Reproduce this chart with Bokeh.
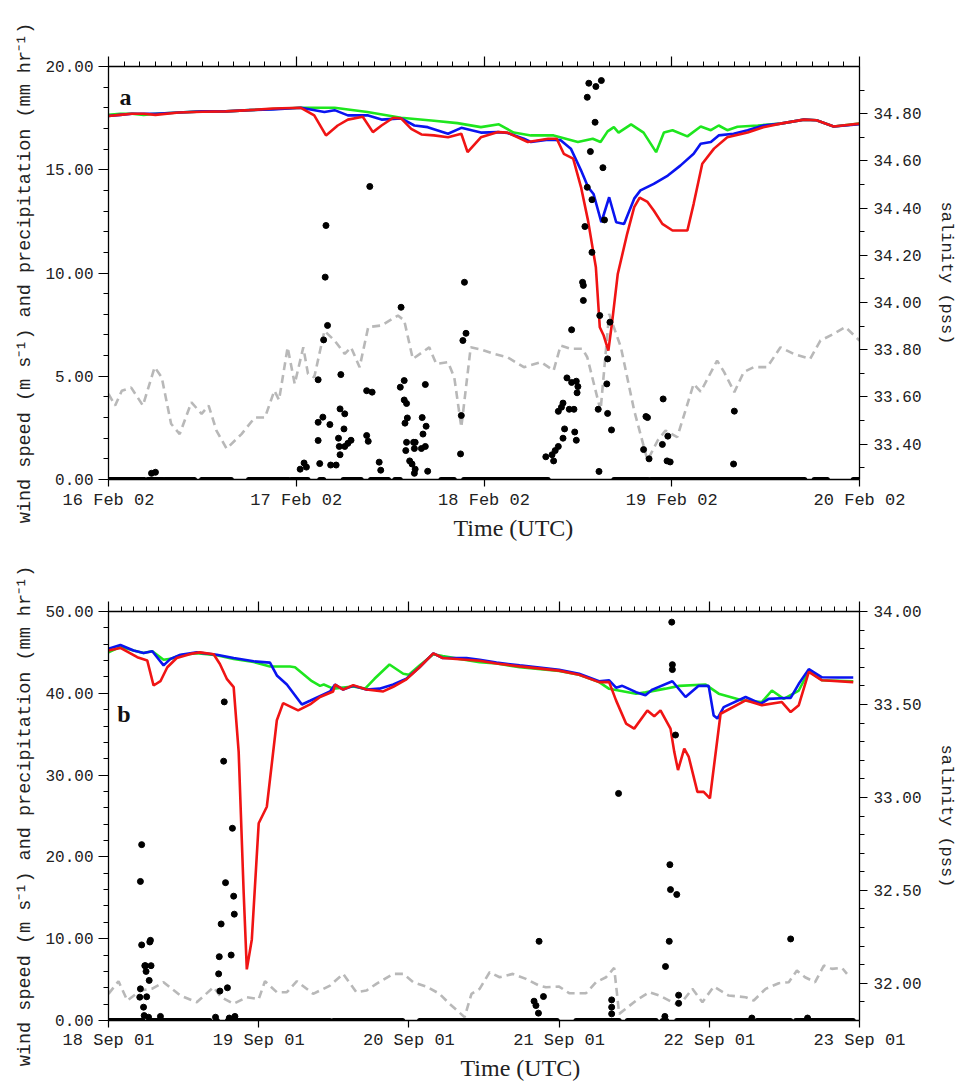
from bokeh.plotting import figure
from bokeh.models import (Range1d, LinearAxis, FixedTicker, PrintfTickFormatter,
                          CustomJSTickFormatter, Label, Title)
from bokeh.layouts import column
from bokeh.embed import file_html
from bokeh.resources import INLINE

MONO = "Liberation Mono"
SERIF = "Liberation Serif"

# ---------------- Panel a (16-20 Feb 2002), x = hours since 16 Feb 00 UTC ----------------
days_a = [0, 24, 48, 72, 96]
day_labels_a = ["16 Feb 02", "17 Feb 02", "18 Feb 02", "19 Feb 02", "20 Feb 02"]

sal_a_green_h = [0, 1.5, 3, 4.5, 6, 9, 12, 15, 18, 21, 24.6, 28.9, 33.1, 37.4, 41.6, 44.6, 47.6, 49.9,
                 51.8, 54, 56.9, 60, 61.9, 62.9, 63.8, 64.6, 65.2, 66.8, 68.4, 70, 71, 72.1, 74, 75.7,
                 77, 78, 79.1, 80.4, 83, 85.9, 88.9, 90.5, 92.7, 96]
sal_a_green = [34.795, 34.80, 34.80, 34.795, 34.80, 34.805, 34.81, 34.81, 34.815, 34.82, 34.825, 34.825,
               34.807, 34.783, 34.77, 34.76, 34.743, 34.755, 34.72, 34.708, 34.708, 34.68, 34.694, 34.68,
               34.725, 34.743, 34.72, 34.755, 34.72, 34.637, 34.72, 34.73, 34.704, 34.746, 34.73, 34.75,
               34.73, 34.745, 34.75, 34.758, 34.775, 34.772, 34.746, 34.758]

sal_a_blue_h = [0, 1.5, 3, 4.5, 6, 9, 12, 15, 18, 21, 24.6, 27.6, 28.9, 30.6, 33.1, 34.9, 37.4, 39.1,
                40.8, 43.4, 45.1, 47.6, 49.8, 51, 53.1, 54, 56.2, 57.8, 59.1, 60.4, 61.3, 62, 63, 64,
                64.9, 65.9, 67.2, 68, 69.7, 71.5, 73.1, 74.8, 75.7, 77, 78, 79.9, 81.7, 83.7, 85.9,
                88.9, 90.5, 92.7, 96]
sal_a_blue = [34.79, 34.795, 34.80, 34.80, 34.80, 34.805, 34.81, 34.81, 34.815, 34.818, 34.825, 34.807,
              34.815, 34.793, 34.793, 34.775, 34.78, 34.75, 34.743, 34.715, 34.74, 34.72, 34.722, 34.718,
              34.694, 34.68, 34.69, 34.688, 34.652, 34.56, 34.489, 34.46, 34.34, 34.446, 34.34, 34.333,
              34.44, 34.475, 34.503, 34.538, 34.58, 34.63, 34.673, 34.68, 34.708, 34.715, 34.73, 34.75,
              34.758, 34.775, 34.772, 34.746, 34.755]

sal_a_red_h = [0, 1.5, 3, 4.5, 6, 9, 12, 15, 18, 21, 24.6, 26.3, 27.8, 29.3, 30.6, 32.5, 33.8, 34.9,
               36.4, 37.4, 38.7, 40, 41.6, 43.4, 45.1, 45.9, 47.6, 49.8, 51, 53.6, 56.2, 57.3, 58.2,
               59.4, 60.4, 61.3, 62.3, 62.8, 63.3, 63.9, 64.4, 65.1, 66.3, 67.2, 67.9, 68.9, 69.7,
               70.8, 72.1, 74, 74.8, 75.9, 77.4, 79.1, 81.7, 83.7, 85.9, 88.9, 90.5, 92.7, 96]
sal_a_red = [34.79, 34.795, 34.80, 34.80, 34.795, 34.805, 34.808, 34.81, 34.815, 34.822, 34.825, 34.793,
             34.708, 34.75, 34.775, 34.787, 34.722, 34.75, 34.783, 34.78, 34.736, 34.712, 34.708, 34.70,
             34.715, 34.637, 34.70, 34.722, 34.72, 34.68, 34.694, 34.694, 34.63, 34.61, 34.489, 34.347,
             34.149, 33.895, 33.86, 33.796, 33.923, 34.121, 34.291, 34.404, 34.444, 34.426, 34.39,
             34.333, 34.305, 34.305, 34.418, 34.588, 34.652, 34.70, 34.72, 34.743, 34.758, 34.775,
             34.772, 34.746, 34.758]

wind_a_h = [0, 0.85, 1.7, 2.9, 4.4, 5.9, 6.8, 8, 9.1, 10.6, 11.9, 12.8, 13.8, 15.1, 17, 18.7, 20, 21.2,
            21.8, 22.9, 23.8, 24.9, 25.5, 26.3, 27.6, 28.9, 30.2, 31, 32.1, 33.2, 34.9, 37, 37.8, 38.9,
            41, 41.9, 43.4, 44.2, 45.1, 46.3, 47.6, 49.3, 51, 53.1, 55.3, 56.9, 57.8, 59.1, 60.6, 61.2,
            62.9, 64, 65.5, 67.2, 68.9, 70.2, 71.2, 72.7, 74.8, 75.7, 77.8, 78.7, 80, 81.2, 82.5, 84.2,
            85.9, 87.6, 89.7, 91, 92.7, 94.2, 96]
wind_a = [4.15, 3.58, 4.3, 4.45, 3.58, 5.44, 4.95, 2.7, 2.2, 3.74, 3.18, 3.58, 2.37, 1.49, 2.2, 3.0, 3.0,
          4.3, 3.85, 6.4, 4.63, 6.4, 5.12, 4.95, 7.2, 6.73, 6.08, 6.4, 5.44, 7.38, 7.46, 7.94, 7.7, 5.84,
          6.4, 5.6, 5.68, 4.95, 2.53, 6.4, 6.3, 6.08, 5.92, 5.44, 5.68, 5.28, 6.49, 6.33, 6.33, 5.92,
          3.34, 8.02, 6.4, 3.34, 0.92, 1.89, 2.37, 2.05, 4.63, 4.25, 5.76, 5.2, 4.23, 5.2, 5.44, 5.44,
          6.4, 6.08, 5.84, 6.73, 7.05, 7.38, 6.73]

rain_a_h = [26.8, 27.4, 26.8, 26.8, 28.3, 27.8, 27.7, 28.0, 27.5, 27.0, 28.4, 29.7, 29.6, 30.2, 30.1,
            29.4, 29.5, 29.6, 29.1, 30.6, 31.0, 30.2, 33.4, 33.0, 33.7, 33.0, 33.2, 34.6, 34.8, 37.4,
            37.3, 37.8, 37.8, 38.1, 38.2, 37.9, 40.1, 40.5, 40.6, 40.2, 38.1, 39.0, 39.2, 38.0, 39.1,
            40.0, 40.5, 38.5, 38.8, 39.2, 39.1, 40.8, 45.5, 45.7, 45.3, 45.1, 45.0,
            61.4, 62.3, 63.0, 61.2, 62.2, 61.6, 63.2, 61.2, 61.8, 63.4, 60.9, 61.8, 60.6, 60.7, 60.7,
            62.8, 64.1, 59.2, 63.8, 58.6, 59.2, 59.8, 60.0, 59.9, 63.7, 58.1, 58.9, 59.5, 57.5, 57.9,
            62.6, 63.8, 58.3, 59.6, 59.8, 58.1, 64.3, 57.5, 57.1, 56.7, 55.9, 56.9, 62.7, 68.7, 68.9,
            70.9, 71.5, 70.8, 68.4, 69.1, 71.4, 71.8, 80.0, 79.9, 5.5, 6.0, 24.5, 25.0, 25.3]
rain_a = [4.83, 3.02, 2.77, 1.89, 2.66, 12.3, 9.8, 7.46, 6.76, 0.77, 0.7, 5.08, 3.42, 3.18, 2.45,
          2.0, 1.6, 1.2, 0.7, 1.75, 1.9, 1.6, 14.19, 4.3, 4.23, 2.13, 1.85, 0.84, 0.45, 8.34,
          4.47, 4.79, 3.85, 3.68, 2.98, 2.73, 3.0, 4.6, 2.58, 2.2, 1.8, 1.8, 1.8, 1.4, 1.5,
          1.5, 1.6, 0.9, 0.75, 0.5, 0.3, 0.4, 9.55, 7.08, 6.73, 3.1, 1.24,
          19.19, 19.03, 19.32, 18.51, 17.3, 15.88, 15.1, 14.15, 13.55, 12.57, 12.25, 11.0, 9.55, 9.4,
          8.67, 7.94, 7.62, 7.25, 5.84, 4.92, 4.7, 4.76, 4.5, 4.2, 4.63, 3.7, 3.4, 3.4, 3.3, 3.5,
          3.4, 3.2, 2.45, 2.3, 1.9, 2.0, 2.4, 1.6, 1.4, 1.2, 1.1, 0.9, 0.39, 3.05, 3.0,
          3.9, 2.1, 1.7, 1.45, 1.0, 0.9, 0.85, 3.31, 0.75, 0.3, 0.35, 0.5, 0.8, 0.6]

# periods with zero-precipitation readings (hours)
dry_a_start = [0, 5.0, 7.2, 11.9, 17.9, 23.3, 27.0, 30.0, 33.5, 36.6, 42.5, 45.4, 64.6, 69.3, 90.2, 95.2]
dry_a_end = [4.6, 7.0, 11.0, 15.7, 23.0, 25.5, 27.5, 32.3, 35.8, 37.3, 44.2, 56.2, 69.0, 89.0, 91.9, 96]

# ---------------- Panel b (18-23 Sep 2001), x = hours since 18 Sep 00 UTC ----------------
days_b = [0, 24, 48, 72, 96, 120]
day_labels_b = ["18 Sep 01", "19 Sep 01", "20 Sep 01", "21 Sep 01", "22 Sep 01", "23 Sep 01"]

sal_b_green_h = [0, 1.9, 4, 5.6, 7, 8.8, 9.9, 11.5, 14.1, 17.3, 20, 23.2, 25.8, 29, 29.8, 32.5, 33.8,
                 34.4, 35.9, 39.1, 41, 42.5, 44.9, 47.1, 48, 49.7, 51.9, 53.4, 59.3, 62, 65.7, 72,
                 75.2, 78.4, 80, 84.3, 85.8, 89, 91.2, 95.4, 97.5, 101.2, 104.4, 106, 107.9, 110.3,
                 111.9, 114, 119]
sal_b_green = [33.78, 33.81, 33.79, 33.777, 33.786, 33.74, 33.745, 33.765, 33.775, 33.765, 33.745,
               33.728, 33.704, 33.704, 33.70, 33.625, 33.60, 33.607, 33.585, 33.597, 33.585, 33.638,
               33.715, 33.665, 33.66, 33.71, 33.77, 33.76, 33.727, 33.72, 33.70, 33.68, 33.66, 33.62,
               33.584, 33.558, 33.565, 33.585, 33.60, 33.607, 33.558, 33.522, 33.513, 33.575, 33.53,
               33.575, 33.68, 33.63, 33.625]

sal_b_blue_h = [0, 1.9, 4, 5.6, 7, 8.8, 9.9, 11.5, 14.1, 17.3, 20, 23.2, 25.8, 26.9, 28.5, 30.9, 32.2,
                35.4, 36.2, 37.5, 39.1, 41.2, 43.3, 45.5, 47.6, 49.7, 51.9, 53.4, 55.3, 57.2, 59.3, 62,
                65.7, 68.5, 72, 75.2, 78.4, 80, 81.1, 82.1, 84.3, 85.8, 86.9, 90.1, 92.2, 94.3, 95.9,
                96.7, 97.3, 98.3, 101.8, 104.2, 105.5, 108.2, 109, 110.3, 111.9, 114, 116.6, 119]
sal_b_blue = [33.80, 33.82, 33.79, 33.777, 33.786, 33.71, 33.745, 33.767, 33.78, 33.767, 33.75, 33.732,
              33.725, 33.656, 33.607, 33.50, 33.52, 33.57, 33.607, 33.58, 33.60, 33.58, 33.585, 33.607,
              33.638, 33.70, 33.775, 33.75, 33.75, 33.75, 33.74, 33.725, 33.71, 33.70, 33.686, 33.665,
              33.625, 33.63, 33.59, 33.60, 33.566, 33.55, 33.58, 33.625, 33.54, 33.60, 33.60, 33.441,
              33.424, 33.486, 33.54, 33.504, 33.53, 33.535, 33.535, 33.611, 33.69, 33.646, 33.645,
              33.645]

sal_b_red_h = [0, 1.9, 4.6, 6.2, 7.2, 8.3, 9.4, 10.9, 13.1, 14.6, 16.8, 17.8, 18.9, 20, 20.8, 21.6,
               22.1, 22.9, 24, 25.3, 26.9, 27.9, 30.3, 32.2, 33.8, 35.9, 36.2, 37.5, 39.1, 41.2, 43.9,
               45.5, 47.6, 49.7, 51.9, 53.4, 59.3, 62, 65.7, 72, 75.2, 78.4, 80, 81.1, 82.7, 84, 86.1,
               87.2, 88.2, 89.8, 90.4, 91, 92, 92.7, 94.1, 95.1, 96.1, 97.8, 101.8, 104.4, 107.6, 109,
               110.3, 111.9, 114, 119]
sal_b_red = [33.79, 33.804, 33.754, 33.736, 33.602, 33.625, 33.70, 33.75, 33.772, 33.78, 33.77, 33.718,
             33.638, 33.593, 33.245, 32.486, 32.075, 32.236, 32.861, 32.95, 33.415, 33.507, 33.468,
             33.50, 33.54, 33.57, 33.607, 33.58, 33.604, 33.58, 33.57, 33.595, 33.635, 33.70, 33.775,
             33.75, 33.735, 33.72, 33.705, 33.682, 33.66, 33.62, 33.62, 33.522, 33.397, 33.37, 33.468,
             33.436, 33.468, 33.37, 33.245, 33.147, 33.263, 33.22, 33.03, 33.03, 32.995, 33.45, 33.522,
             33.496, 33.513, 33.459, 33.496, 33.675, 33.63, 33.62]

wind_b_h = [0, 1.6, 3, 5.1, 7, 8.8, 11.5, 14.1, 16.8, 18, 20, 22.1, 24, 25, 26.9, 28.5, 30.1, 32.7,
            35.4, 37.5, 39.6, 41.2, 42.8, 45.5, 47.1, 48.7, 50.8, 52.9, 54.5, 56.9, 58, 59.3, 60.9,
            62.5, 64.6, 66.7, 68.8, 69.9, 72, 73.6, 76.3, 77.9, 79.5, 80.8, 81.6, 84.3, 86.4, 88,
            89.6, 91.2, 93.3, 94.9, 96.7, 99.1, 101.8, 103.1, 105, 107.1, 108.7, 110, 111.3, 112.9,
            114.3, 115.6, 117.2, 118]
wind_b = [3.26, 4.8, 2.44, 3.66, 3.9, 4.68, 3.05, 2.24, 4.07, 2.85, 2.04, 2.85, 2.6, 4.8, 3.46, 3.46,
          4.8, 3.26, 4.27, 5.7, 3.46, 3.66, 4.48, 5.7, 5.7, 4.68, 4.15, 3.26, 2.04, 0.41, 3.26, 3.87,
          5.9, 5.29, 5.7, 5.09, 4.27, 4.07, 4.15, 3.34, 3.34, 4.68, 5.29, 6.43, 0.81, 2.44, 3.46,
          3.05, 2.44, 1.83, 3.87, 2.24, 4.15, 3.05, 2.85, 2.44, 3.87, 4.56, 4.68, 6.1, 5.29, 4.68,
          6.72, 6.31, 6.43, 5.7]

rain_b_h = [5.3, 5.1, 5.3, 5.1, 5.0, 5.6, 5.7, 5.8, 5.9, 6.0, 6.1, 6.5, 6.6, 6.7, 6.8, 6.4, 8.3,
            18.5, 18.4, 18.0, 17.7, 17.6, 17.8, 18.7, 19.8, 20.0, 20.1, 19.6, 19.0, 17.1, 19.3, 20.2,
            68.8, 68.0, 68.3, 68.7, 69.5, 81.5, 80.4, 80.4, 80.4,
            90.0, 90.1, 90.1, 90.6, 89.7, 89.8, 90.8, 89.6, 89.0, 91.1, 91.1, 88.9, 109.0, 102.8, 111.7]
rain_b = [21.5, 17.0, 9.24, 3.87, 2.85, 1.63, 0.6, 6.7, 6.7, 6.0, 2.9, 4.9, 9.6, 9.8, 6.7, 0.4, 0.5,
          38.95, 31.7, 11.8, 7.8, 5.7, 3.6, 16.85, 23.5, 15.2, 13.0, 8.0, 4.0, 0.4, 0.3, 0.5,
          9.68, 2.36, 1.83, 0.9, 2.93, 27.76, 2.52, 1.63, 0.81,
          48.7, 43.5, 42.9, 34.9, 19.05, 16.0, 15.4, 9.68, 6.6, 3.1, 2.1, 0.5, 9.97, 0.3, 0.3]

dry_b_start = [0, 6.7, 17.2, 19.0, 35.9, 49.7, 74.7, 82.9, 88.5, 90.8, 103.6, 109.8]
dry_b_end = [5.5, 16.2, 17.4, 35.4, 47.0, 71.7, 81.6, 87.5, 89.2, 102.8, 109.0, 119.0]

GREEN = "#1ee61e"
BLUE = "#0a14f0"
RED = "#f01414"
GRAY = "#b8b8b8"


def style_axis(ax, major_out, minor_out):
    ax.axis_line_color = "black"
    ax.axis_line_width = 1.3
    ax.major_tick_line_color = "black"
    ax.minor_tick_line_color = "black"
    ax.major_tick_line_width = 1.2
    ax.minor_tick_line_width = 1.0
    ax.major_tick_in = 0
    ax.minor_tick_in = 0
    ax.major_tick_out = major_out
    ax.minor_tick_out = minor_out
    ax.major_label_text_font = MONO
    ax.major_label_text_font_size = "16px"
    ax.major_label_text_color = "#222222"
    ax.axis_label_text_font_style = "normal"
    ax.axis_label_text_color = "#222222"


def make_panel(width, height, bl, br, bt, bb, xmax, days, day_labels, ymax, yticks, yminor,
               smin, smax, sticks, sminor, green, blue, red, wind, rain, dry, tag, tag_x, tag_y,
               xlab_standoff, time_offset):
    p = figure(width=width, height=height, x_range=Range1d(0, xmax), y_range=Range1d(0, ymax),
               output_backend="svg", toolbar_location=None, x_axis_type=None, y_axis_type=None,
               min_border_left=bl, min_border_right=br, min_border_top=bt, min_border_bottom=bb)
    p.outline_line_color = None
    p.background_fill_color = "white"
    p.border_fill_color = "white"
    p.extra_y_ranges = {"sal": Range1d(smin, smax)}

    # left axis
    left = LinearAxis(ticker=FixedTicker(ticks=yticks, minor_ticks=yminor),
                      formatter=PrintfTickFormatter(format="%.2f"),
                      axis_label="wind speed (m s\u207b\u00b9) and precipitation (mm hr\u207b\u00b9)")
    style_axis(left, 10, 5)
    left.major_label_standoff = 5
    left.axis_label_text_font = MONO
    left.axis_label_text_font_size = "18.5px"
    left.axis_label_standoff = 6
    p.add_layout(left, "left")

    # right axis (salinity)
    right = LinearAxis(y_range_name="sal", ticker=FixedTicker(ticks=sticks, minor_ticks=sminor),
                       formatter=PrintfTickFormatter(format="%.2f"), axis_label="salinity (pss)")
    style_axis(right, 8, 5)
    right.major_label_standoff = 6
    right.axis_label_text_font = MONO
    right.axis_label_text_font_size = "17px"
    right.axis_label_standoff = 12
    p.add_layout(right, "right")

    # top axis: day ticks + 2-hourly minor ticks, no labels
    top = LinearAxis(ticker=FixedTicker(ticks=days, minor_ticks=list(range(0, xmax + 1, 2))),
                     formatter=CustomJSTickFormatter(code="return ''"))
    style_axis(top, 10, 5)
    top.major_label_standoff = 0
    p.add_layout(top, "above")

    # bottom axis: day labels
    bottom = LinearAxis(ticker=FixedTicker(ticks=days, minor_ticks=[]),
                        major_label_overrides={d: lab for d, lab in zip(days, day_labels)})
    style_axis(bottom, 7, 0)
    bottom.major_label_text_font_size = "17px"
    bottom.major_label_standoff = xlab_standoff
    p.add_layout(bottom, "below")

    p.add_layout(Title(text="Time (UTC)", text_font=SERIF, text_font_size="24px",
                       text_font_style="normal", text_color="#222222", align="left",
                       offset=time_offset, standoff=0), "below")

    wh, wv = wind
    p.line(wh, wv, line_color=GRAY, line_width=2.6, line_dash="8 5")

    for (xh, xv), col in ((green, GREEN), (blue, BLUE), (red, RED)):
        p.line(xh, xv, line_color=col, line_width=2.6, y_range_name="sal")

    ds, de = dry
    p.segment(x0=ds, y0=[0] * len(ds), x1=de, y1=[0] * len(de), line_color="black",
              line_width=5, line_cap="round")
    rh, rv = rain
    p.scatter(rh, rv, size=6, color="black")

    p.add_layout(Label(x=tag_x, y=tag_y, text=tag, text_font=SERIF, text_font_style="bold",
                       text_font_size="24px", text_baseline="middle", text_color="#111111"))
    return p


pa = make_panel(958, 545, 107, 99, 66, 66, 96, days_a, day_labels_a, 20,
                [0, 5, 10, 15, 20], list(range(0, 21)),
                33.25, 35.0, [33.4, 33.6, 33.8, 34.0, 34.2, 34.4, 34.6, 34.8],
                [33.3, 33.4, 33.5, 33.6, 33.7, 33.8, 33.9, 34.0, 34.1, 34.2, 34.3, 34.4, 34.5, 34.6,
                 34.7, 34.8, 34.9],
                (sal_a_green_h, sal_a_green), (sal_a_blue_h, sal_a_blue), (sal_a_red_h, sal_a_red),
                (wind_a_h, wind_a), (rain_a_h, rain_a), (dry_a_start, dry_a_end), "a", 1.4, 18.5,
                4, 345)

pb = make_panel(958, 538, 108, 97, 66, 63, 120, days_b, day_labels_b, 50,
                [0, 10, 20, 30, 40, 50], list(range(0, 51, 2)),
                31.8, 34.0, [32.0, 32.5, 33.0, 33.5, 34.0],
                [31.9, 32.0, 32.1, 32.2, 32.3, 32.4, 32.5, 32.6, 32.7, 32.8, 32.9, 33.0, 33.1, 33.2,
                 33.3, 33.4, 33.5, 33.6, 33.7, 33.8, 33.9, 34.0],
                (sal_b_green_h, sal_b_green), (sal_b_blue_h, sal_b_blue), (sal_b_red_h, sal_b_red),
                (wind_b_h, wind_b), (rain_b_h, rain_b), (dry_b_start, dry_b_end), "b", 1.4, 37.5,
                3, 352)

layout = column(pa, pb, spacing=0)
open("out.html", "w").write(file_html(layout, INLINE))
